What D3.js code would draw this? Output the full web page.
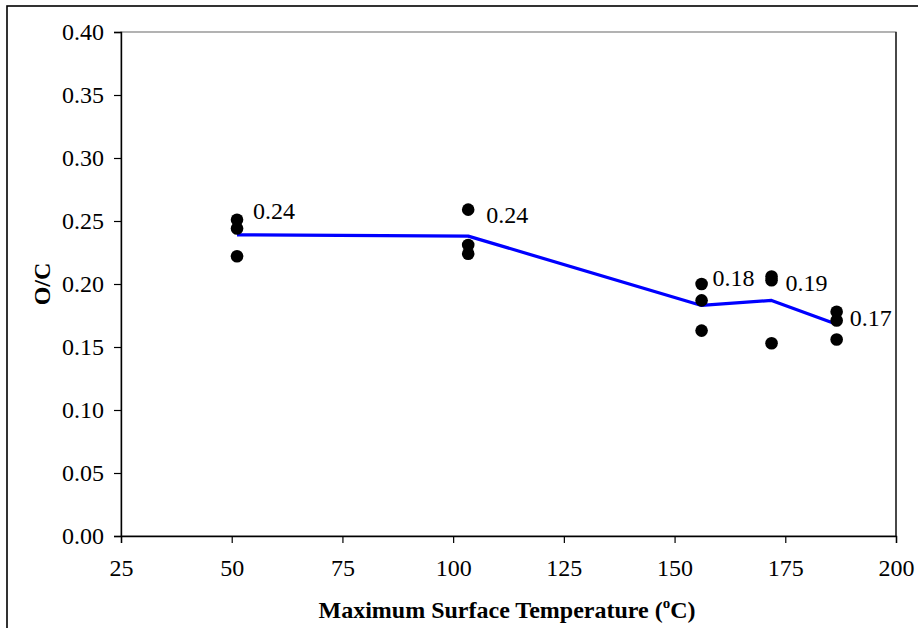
<!DOCTYPE html>
<html>
<head>
<meta charset="utf-8">
<script src="https://cdn.jsdelivr.net/npm/d3@7"></script>
<style>
  html, body { margin: 0; padding: 0; background: #fff; }
  svg { display: block; font-family: "Liberation Serif", "Times New Roman", serif; }
</style>
</head>
<body>
<svg id="chart" width="918" height="628"></svg>
<script>
// ---- data ----
const temperatures = [51.2, 103.4, 156.1, 171.9, 186.6];
const replicateA = [0.251, 0.259, 0.200, 0.206, 0.178];
const replicateB = [0.244, 0.231, 0.187, 0.203, 0.171];
const replicateC = [0.222, 0.224, 0.163, 0.153, 0.156];
const meanValues = [0.239, 0.238, 0.183, 0.187, 0.168];
const meanLabels = ["0.24", "0.24", "0.18", "0.19", "0.17"];
const xTicks = [25, 50, 75, 100, 125, 150, 175, 200];
const yTicks = [0, 0.05, 0.10, 0.15, 0.20, 0.25, 0.30, 0.35, 0.40];

// label placement (layout only, pixels relative to the mean point)
const labelOffsets = [[16, -16], [18, -13], [11, -19], [14, -9], [13, 2]];

const FONT = "'Liberation Serif', 'Times New Roman', serif";
const svg = d3.select("#chart");
const W = 918, H = 628;
const plot = { left: 121, right: 896, top: 32, bottom: 536 };

// outer chart frame (cropped on right and bottom)
svg.append("rect")
  .attr("x", 7).attr("y", 6)
  .attr("width", W + 20).attr("height", H + 20)
  .attr("fill", "#fff").attr("stroke", "#000").attr("stroke-width", 1.6);

const x = d3.scaleLinear().domain([25, 200]).range([plot.left, plot.right]);
const y = d3.scaleLinear().domain([0, 0.40]).range([plot.bottom, plot.top]);

// plot area border
svg.append("rect")
  .attr("x", plot.left).attr("y", plot.top)
  .attr("width", plot.right - plot.left).attr("height", plot.bottom - plot.top)
  .attr("fill", "none").attr("stroke", "#808080").attr("stroke-width", 1.2);
svg.append("line")
  .attr("x1", plot.right).attr("x2", plot.right)
  .attr("y1", plot.top).attr("y2", plot.bottom)
  .attr("stroke", "#000").attr("stroke-width", 1.2);

// axes
const xAxis = d3.axisBottom(x).tickValues(xTicks).tickSize(7).tickPadding(16)
  .tickFormat(d3.format("d"));
const gx = svg.append("g").attr("transform", `translate(0,${plot.bottom})`).call(xAxis);
const yAxis = d3.axisLeft(y).tickValues(yTicks).tickSize(7).tickPadding(10)
  .tickFormat(d3.format(".2f"));
const gy = svg.append("g").attr("transform", `translate(${plot.left},0)`).call(yAxis);

[gx, gy].forEach(g => {
  g.attr("font-family", null);
  g.select(".domain").attr("stroke", "#000").attr("stroke-width", 1.4);
  g.selectAll(".tick line").attr("stroke", "#000").attr("stroke-width", 1.2);
  g.selectAll(".tick text")
    .attr("fill", "#000")
    .style("font-family", FONT)
    .style("font-size", "24px");
});

// axis titles
svg.append("text")
  .attr("x", 507).attr("y", 618)
  .attr("text-anchor", "middle")
  .style("font-family", FONT)
  .style("font-size", "24px").style("font-weight", "bold")
  .call(t => {
    t.append("tspan").text("Maximum Surface Temperature (");
    t.append("tspan").text("o").attr("dy", -10).style("font-size", "15px");
    t.append("tspan").text("C)").attr("dy", 10);
  });

svg.append("text")
  .attr("transform", `translate(50,${(plot.top + plot.bottom) / 2}) rotate(-90)`)
  .attr("text-anchor", "middle")
  .style("font-family", FONT)
  .style("font-size", "24px").style("font-weight", "bold")
  .text("O/C");

// mean line
const line = d3.line()
  .x((d, i) => x(temperatures[i]))
  .y(d => y(d));
svg.append("path")
  .datum(meanValues)
  .attr("d", line)
  .attr("fill", "none")
  .attr("stroke", "#0000FF")
  .attr("stroke-width", 3.2)
  .attr("stroke-linejoin", "round");

// replicate points
const points = [];
[replicateA, replicateB, replicateC].forEach(series => {
  series.forEach((v, i) => points.push({ t: temperatures[i], v }));
});
svg.append("g").selectAll("circle")
  .data(points)
  .join("circle")
  .attr("cx", d => x(d.t))
  .attr("cy", d => y(d.v))
  .attr("r", 6.3)
  .attr("fill", "#000");

// mean labels
svg.append("g").selectAll("text")
  .data(meanValues)
  .join("text")
  .attr("x", (d, i) => x(temperatures[i]) + labelOffsets[i][0])
  .attr("y", (d, i) => y(d) + labelOffsets[i][1])
  .style("font-family", FONT)
  .style("font-size", "24px")
  .attr("fill", "#000")
  .text((d, i) => meanLabels[i]);
</script>
</body>
</html>
